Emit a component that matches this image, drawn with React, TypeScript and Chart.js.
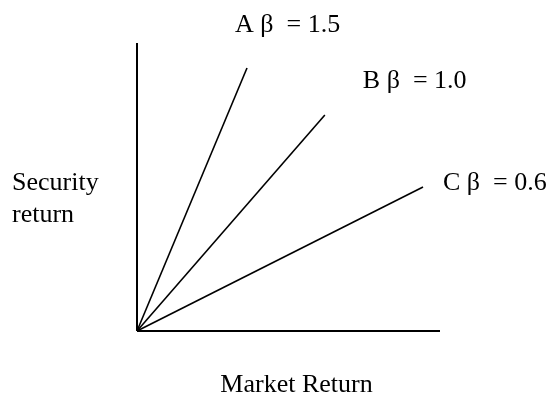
import React, { useEffect, useRef } from "react";
import { Chart, registerables } from "chart.js";

Chart.register(...registerables);

// ---- data ----
const seriesNames = ["A", "B", "C"];
const betaLabels = ["1.5", "1.0", "0.6"];
const marketReturnEnd = [3.63, 6.2, 9.44];
const securityReturnEnd = [9.13, 7.5, 5.0];
const xAxisMax = 10;
const yAxisMax = 10;
const xAxisTitle = "Market Return";
const yAxisTitle = ["Security", "return"];

const FONT = '26px "Liberation Serif", "Times New Roman", serif';
// label offsets from line end (px)
const labelOffsets = [
  [-12, -36],
  [38, -27],
  [20, 3],
];

const labelPlugin = {
  id: "betaLabels",
  afterDatasetsDraw(chart: any) {
    const { ctx, scales, chartArea } = chart;
    const xs = scales.x;
    const ys = scales.y;
    ctx.save();
    ctx.font = FONT;
    ctx.fillStyle = "#000";
    ctx.textBaseline = "alphabetic";
    ctx.textAlign = "left";
    seriesNames.forEach((n, i) => {
      const px = xs.getPixelForValue(marketReturnEnd[i]);
      const py = ys.getPixelForValue(securityReturnEnd[i]);
      ctx.fillText(`${n} β  = ${betaLabels[i]}`, px + labelOffsets[i][0], py + labelOffsets[i][1]);
    });
    // y axis title
    const y0 = ys.getPixelForValue(0);
    const yTop = ys.getPixelForValue(yAxisMax);
    const mid = (y0 + yTop) / 2;
    ctx.fillText(yAxisTitle[0], 12, mid + 3);
    ctx.fillText(yAxisTitle[1], 12, mid + 35);
    // x axis title
    ctx.textAlign = "center";
    const cx = (xs.getPixelForValue(0) + xs.getPixelForValue(xAxisMax)) / 2;
    ctx.fillText(xAxisTitle, cx + 8, y0 + 61);
    ctx.restore();
  },
};

export default function App() {
  const ref = useRef<HTMLCanvasElement>(null);
  useEffect(() => {
    if (!ref.current) return;
    const lineStyle = {
      borderColor: "#000",
      pointRadius: 0,
      fill: false,
      clip: false as any,
      tension: 0,
    };
    const datasets: any[] = [
      {
        label: "x-axis",
        data: [
          { x: 0, y: 0 },
          { x: xAxisMax, y: 0 },
        ],
        ...lineStyle,
        borderWidth: 2,
      },
      {
        label: "y-axis",
        data: [
          { x: 0, y: 0 },
          { x: 0, y: yAxisMax },
        ],
        ...lineStyle,
        borderWidth: 2,
      },
      ...seriesNames.map((n, i) => ({
        label: n,
        data: [
          { x: 0, y: 0 },
          { x: marketReturnEnd[i], y: securityReturnEnd[i] },
        ],
        ...lineStyle,
        borderWidth: 1.6,
      })),
    ];
    const chart = new Chart(ref.current, {
      type: "line",
      data: { datasets },
      options: {
        animation: false,
        responsive: false,
        parsing: false as any,
        layout: { padding: { left: 137, top: 43, right: 111, bottom: 66 } },
        plugins: { legend: { display: false }, tooltip: { enabled: false } },
        scales: {
          x: { type: "linear", display: false, min: 0, max: xAxisMax },
          y: { type: "linear", display: false, min: 0, max: yAxisMax },
        },
      },
      plugins: [labelPlugin],
    });
    return () => chart.destroy();
  }, []);
  return (
    <div style={{ position: "fixed", left: 0, top: 0, width: 551, height: 397, background: "#fff" }}>
      <canvas ref={ref} width={551} height={397} />
    </div>
  );
}
